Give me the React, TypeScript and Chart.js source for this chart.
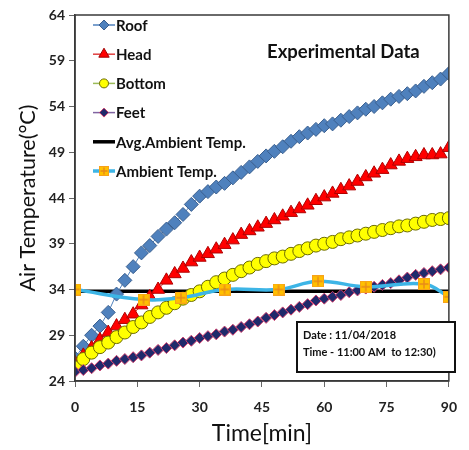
import { useEffect, useRef } from 'react';
import { Chart, registerables } from 'chart.js';

Chart.register(...registerables);

const minutes = [0, 2, 4, 6, 8, 10, 12, 14, 16, 18, 20, 22, 24, 26, 28, 30, 32, 34, 36, 38, 40, 42, 44, 46, 48, 50, 52, 54, 56, 58, 60, 62, 64, 66, 68, 70, 72, 74, 76, 78, 80, 82, 84, 86, 88, 90];

const roof = [26.5, 27.8, 29.0, 30.0, 31.5, 33.5, 35.0, 36.5, 38.0, 38.8, 39.8, 40.6, 41.3, 42.2, 43.3, 44.2, 44.7, 45.2, 45.6, 46.2, 46.8, 47.4, 48.0, 48.6, 49.1, 49.6, 50.2, 50.7, 51.1, 51.5, 51.9, 52.1, 52.5, 52.9, 53.3, 53.7, 54.0, 54.4, 54.8, 55.1, 55.4, 55.7, 56.2, 56.6, 57.0, 57.6];

const head = [26.0, 26.8, 27.6, 28.5, 29.3, 30.0, 30.7, 31.3, 32.3, 33.2, 34.0, 35.0, 35.7, 36.3, 37.0, 37.5, 37.9, 38.4, 38.9, 39.4, 40.0, 40.4, 40.8, 41.2, 41.6, 42.0, 42.4, 42.8, 43.2, 43.7, 44.1, 44.5, 44.9, 45.3, 45.8, 46.3, 46.7, 47.1, 47.6, 48.0, 48.3, 48.5, 48.7, 48.7, 48.8, 49.5];

const bottom = [25.5, 26.4, 27.1, 27.7, 28.2, 28.8, 29.3, 29.9, 30.4, 31.0, 31.5, 32.0, 32.5, 33.0, 33.4, 33.8, 34.3, 34.8, 35.2, 35.6, 36.0, 36.4, 36.8, 37.1, 37.4, 37.6, 37.9, 38.2, 38.5, 38.8, 39.0, 39.2, 39.5, 39.7, 39.9, 40.1, 40.3, 40.5, 40.7, 40.9, 41.0, 41.2, 41.4, 41.6, 41.7, 41.8];

const feet = [25.0, 25.2, 25.4, 25.7, 25.9, 26.2, 26.4, 26.6, 26.8, 27.1, 27.4, 27.6, 27.9, 28.2, 28.4, 28.7, 28.9, 29.1, 29.4, 29.6, 29.9, 30.2, 30.5, 30.9, 31.2, 31.5, 31.8, 32.1, 32.4, 32.8, 33.0, 33.2, 33.4, 33.7, 33.9, 34.1, 34.3, 34.5, 34.7, 35.0, 35.3, 35.6, 35.8, 36.0, 36.2, 36.4];

const ambientMinutes = [0, 16.5, 25.5, 36, 49, 58.5, 70, 84, 90];
const ambient = [34.0, 32.9, 33.1, 34.0, 34.0, 34.9, 34.3, 34.6, 33.2];

const avgAmbientMinutes = [0, 90];
const avgAmbient = [33.8, 33.8];

const xTicks = [0, 15, 30, 45, 60, 75, 90];
const yTicks = [24, 29, 34, 39, 44, 49, 54, 59, 64];

const seriesLabels = ['Roof', 'Head', 'Bottom', 'Feet', 'Avg.Ambient Temp.', 'Ambient Temp.'];

function makeAmbientMarker(size: number) {
  const c = document.createElement('canvas');
  c.width = size;
  c.height = size;
  const g = c.getContext('2d')!;
  g.fillStyle = '#FFC000';
  g.fillRect(0, 0, size, size);
  g.strokeStyle = '#F7A21B';
  g.lineWidth = 1;
  g.strokeRect(0.5, 0.5, size - 1, size - 1);
  g.strokeStyle = '#E8891A';
  g.lineWidth = 1.4;
  g.beginPath();
  g.moveTo(size / 2, 1.5);
  g.lineTo(size / 2, size - 1.5);
  g.moveTo(1.5, size / 2);
  g.lineTo(size - 1.5, size / 2);
  g.stroke();
  return c;
}

function drawMarker(ctx: CanvasRenderingContext2D, kind: string, x: number, y: number, r: number, fill: string, stroke: string, img?: HTMLCanvasElement) {
  ctx.save();
  ctx.fillStyle = fill;
  ctx.strokeStyle = stroke;
  ctx.lineWidth = 1;
  ctx.beginPath();
  if (kind === 'rectRot') {
    ctx.moveTo(x, y - r);
    ctx.lineTo(x + r, y);
    ctx.lineTo(x, y + r);
    ctx.lineTo(x - r, y);
    ctx.closePath();
  } else if (kind === 'triangle') {
    ctx.moveTo(x, y - r);
    ctx.lineTo(x + r * 0.866, y + r * 0.5);
    ctx.lineTo(x - r * 0.866, y + r * 0.5);
    ctx.closePath();
  } else if (kind === 'circle') {
    ctx.arc(x, y, r, 0, Math.PI * 2);
  }
  if (kind === 'image' && img) {
    ctx.drawImage(img, x - img.width / 2, y - img.height / 2);
  } else if (kind !== 'none') {
    ctx.fill();
    ctx.stroke();
  }
  ctx.restore();
}

export default function App() {
  const ref = useRef<HTMLCanvasElement | null>(null);

  useEffect(() => {
    if (!ref.current) return;
    Chart.defaults.font.family = "Lato, 'DejaVu Sans', sans-serif";
    const ambImg = makeAmbientMarker(12);
    const ambImgSmall = makeAmbientMarker(10);

    const pts = (xs: number[], ys: number[]) => xs.map((x, i) => ({ x, y: ys[i] }));

    const legendSpec = [
      { line: '#4F81BD', kind: 'rectRot', r: 5, fill: '#4F81BD', stroke: '#3A5F8F', width: 1.5 },
      { line: '#E04040', kind: 'triangle', r: 6, fill: '#FF0000', stroke: '#A00000', width: 1.5 },
      { line: '#9BBB59', kind: 'circle', r: 4.5, fill: '#FFFF00', stroke: '#6B6B00', width: 1.5 },
      { line: '#8064A2', kind: 'rectRot', r: 4.5, fill: '#1F2A6B', stroke: '#D0406E', width: 1.5 },
      { line: '#000000', kind: 'none', r: 0, fill: '#000', stroke: '#000', width: 3.5 },
      { line: '#3DB5E6', kind: 'image', r: 0, fill: '#FFC000', stroke: '#FFC000', width: 3.5 },
    ];

    const overlay = {
      id: 'overlay',
      afterDraw(chart: Chart) {
        const ctx = chart.ctx;
        const a = chart.chartArea;
        ctx.save();
        // plot frame
        ctx.strokeStyle = '#3A3A3A';
        ctx.lineWidth = 1.5;
        ctx.strokeRect(a.left, a.top, a.right - a.left, a.bottom - a.top);

        // inner title
        ctx.fillStyle = '#111';
        ctx.textAlign = 'left';
        ctx.textBaseline = 'middle';
        ctx.font = "bold 18.5px Lato, 'DejaVu Sans', sans-serif";
        ctx.fillText('Experimental Data', 267, 52);

        // legend
        const ly0 = 25;
        const lstep = 29.2;
        ctx.font = "bold 15px Lato, 'DejaVu Sans', sans-serif";
        seriesLabels.forEach((label, i) => {
          const s = legendSpec[i];
          const y = ly0 + i * lstep;
          ctx.strokeStyle = s.line;
          ctx.lineWidth = s.width;
          ctx.beginPath();
          ctx.moveTo(93, y);
          ctx.lineTo(115, y);
          ctx.stroke();
          drawMarker(ctx, s.kind, 104, y, s.r, s.fill, s.stroke, ambImgSmall);
          ctx.fillStyle = '#111';
          ctx.fillText(label, 116, y + 1);
        });

        // annotation box
        ctx.fillStyle = '#fff';
        ctx.fillRect(297, 322, 158, 50);
        ctx.strokeStyle = '#111';
        ctx.lineWidth = 2;
        ctx.strokeRect(297, 322, 158, 50);
        ctx.fillStyle = '#111';
        ctx.font = "bold 11px Lato, 'DejaVu Sans', sans-serif";
        ctx.fillText('Date : 11/04/2018', 303, 335);
        ctx.fillText('Time - 11:00 AM  to 12:30)', 303, 352);
        ctx.restore();
      },
    };

    const chart = new Chart(ref.current, {
      type: 'line',
      data: {
        datasets: [
          {
            label: seriesLabels[5],
            data: pts(ambientMinutes, ambient),
            borderColor: '#3DB5E6',
            borderWidth: 3.5,
            tension: 0.4,
            pointStyle: ambImg as any,
            order: 0,
          },
          {
            label: seriesLabels[3],
            data: pts(minutes, feet),
            borderColor: '#8064A2',
            borderWidth: 1,
            pointStyle: 'rectRot',
            pointRadius: 5.5,
            pointBackgroundColor: '#1F2A6B',
            pointBorderColor: '#D0406E',
            pointBorderWidth: 1,
            order: 1,
          },
          {
            label: seriesLabels[2],
            data: pts(minutes, bottom),
            borderColor: '#9BBB59',
            borderWidth: 1,
            pointStyle: 'circle',
            pointRadius: 6.5,
            pointBackgroundColor: '#FFFF00',
            pointBorderColor: '#6B6B00',
            pointBorderWidth: 1,
            order: 2,
          },
          {
            label: seriesLabels[1],
            data: pts(minutes, head),
            borderColor: '#E04040',
            borderWidth: 1,
            pointStyle: 'triangle',
            pointRadius: 7.5,
            pointBackgroundColor: '#FF0000',
            pointBorderColor: '#B00000',
            pointBorderWidth: 1,
            order: 3,
          },
          {
            label: seriesLabels[0],
            data: pts(minutes, roof),
            borderColor: '#4F81BD',
            borderWidth: 1,
            pointStyle: 'rectRot',
            pointRadius: 7,
            pointBackgroundColor: '#4F81BD',
            pointBorderColor: '#3A5F8F',
            pointBorderWidth: 1,
            order: 4,
          },
          {
            label: seriesLabels[4],
            data: pts(avgAmbientMinutes, avgAmbient),
            borderColor: '#000000',
            borderWidth: 3.5,
            pointRadius: 0,
            order: 5,
          },
        ],
      },
      options: {
        responsive: false,
        animation: false,
        events: [],
        layout: { padding: { top: 15, right: 8, left: 0, bottom: 0 } },
        plugins: {
          legend: { display: false },
          tooltip: { enabled: false },
        },
        scales: {
          x: {
            type: 'linear',
            min: 0,
            max: 90,
            afterBuildTicks: (s: any) => {
              s.ticks = xTicks.map((v) => ({ value: v }));
            },
            afterFit: (s: any) => {
              s.height = 69;
            },
            ticks: {
              color: '#222',
              font: { size: 14, weight: 'bold' },
              padding: 12,
              maxRotation: 0,
              autoSkip: false,
            },
            grid: { display: true, drawOnChartArea: false, drawTicks: true, tickLength: 6, color: '#666' },
            border: { display: true, color: '#3A3A3A', width: 1.5 },
            title: {
              display: true,
              text: 'Time[min]',
              color: '#111',
              font: { size: 23 },
              padding: { top: 0, bottom: 3 },
            },
          },
          y: {
            type: 'linear',
            min: 24,
            max: 64,
            afterBuildTicks: (s: any) => {
              s.ticks = yTicks.map((v) => ({ value: v }));
            },
            afterFit: (s: any) => {
              s.width = 75;
            },
            ticks: {
              color: '#222',
              font: { size: 14, weight: 'bold' },
              padding: 4,
              autoSkip: false,
            },
            grid: { display: true, drawOnChartArea: false, drawTicks: true, tickLength: 6, color: '#666' },
            border: { display: true, color: '#3A3A3A', width: 1.5 },
            title: {
              display: true,
              text: 'Air Temperature(°C)',
              color: '#111',
              font: { size: 21.5 },
              padding: { top: 15, bottom: 0 },
            },
          },
        },
      },
      plugins: [overlay],
    } as any);

    return () => chart.destroy();
  }, []);

  return (
    <div style={{ position: 'fixed', left: 0, top: 0, width: 469, height: 450, background: '#fff' }}>
      <canvas ref={ref} width={469} height={450} />
    </div>
  );
}
